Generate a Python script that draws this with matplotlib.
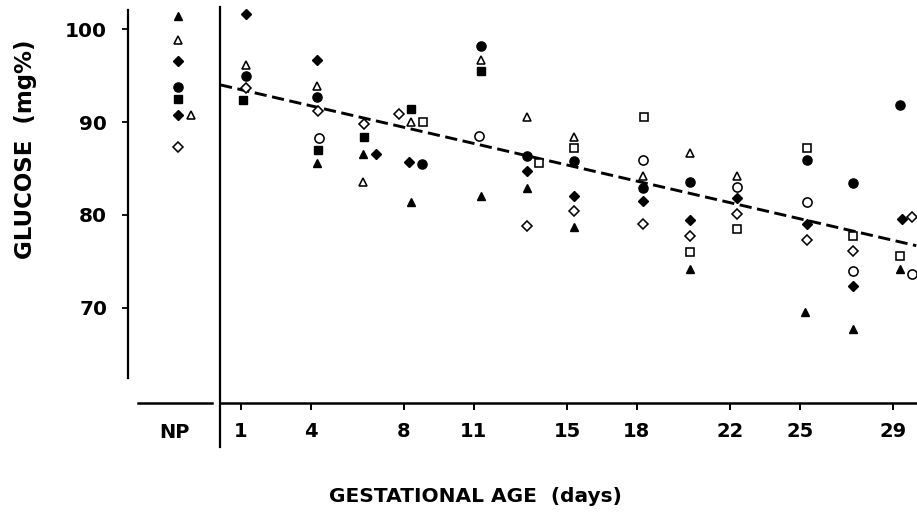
import matplotlib
matplotlib.use("Agg")
import matplotlib.pyplot as plt

plt.rcParams['font.family'] = ['DejaVu Sans']
plt.rcParams['lines.scale_dashes'] = False

# ── data: gestational age (days) vs glucose (mg%), one pair per symbol ──
tri_f_day = [4.25, 6.25, 8.28, 11.3, 13.3, 15.3, 20.3, 25.2, 27.3, 29.3]
tri_f_glu = [85.6, 86.6, 81.4, 82.0, 82.9, 78.7, 74.2, 69.6, 67.7, 74.2]

tri_o_day = [1.2, 4.25, 6.25, 8.28, 11.3, 13.3, 15.3, 18.25, 20.3, 22.3]
tri_o_glu = [96.1, 93.9, 83.5, 90.0, 96.7, 90.5, 88.4, 84.2, 86.7, 84.2]

circ_f_day = [1.2, 4.25, 8.77, 11.3, 13.3, 15.3, 18.25, 20.3, 25.3, 27.3, 29.3]
circ_f_glu = [94.9, 92.7, 85.5, 98.2, 86.3, 85.8, 82.9, 83.5, 85.9, 83.4, 91.8]

circ_o_day = [4.35, 11.23, 18.25, 22.3, 25.3, 27.3, 29.8]
circ_o_glu = [88.3, 88.5, 85.9, 83.0, 81.4, 74.0, 73.7]

dia_f_day = [1.2, 4.25, 6.8, 8.22, 13.3, 15.3, 18.25, 20.3, 22.3, 25.3, 27.3, 29.4]
dia_f_glu = [101.6, 96.7, 86.6, 85.7, 84.7, 82.0, 81.5, 79.5, 81.8, 79.0, 72.4, 79.6]

dia_o_day = [1.2, 4.3, 6.3, 7.77, 13.3, 15.3, 18.25, 20.3, 22.3, 25.3, 27.3, 29.8]
dia_o_glu = [93.7, 91.2, 89.8, 90.9, 78.8, 80.4, 79.0, 77.7, 80.1, 77.3, 76.1, 79.8]

sq_f_day = [1.1, 4.3, 6.3, 8.28, 11.3]
sq_f_glu = [92.4, 87.0, 88.4, 91.4, 95.5]

sq_o_day = [8.83, 13.8, 15.3, 18.3, 20.3, 22.3, 25.3, 27.3, 29.3]
sq_o_glu = [90.0, 85.6, 87.2, 90.5, 76.0, 78.5, 87.2, 77.7, 75.6]

# non-pregnant (NP) values, with small horizontal shift (days) where symbols overlap
np_tri_f = [101.4]
np_tri_o = [98.8, 90.8]
np_tri_o_shift = [0.0, 0.56]
np_circ_f = [93.8]
np_dia_f = [96.6, 90.8]
np_dia_o = [87.3]
np_sq_f = [92.5]

# dashed regression line
fit_day = [0.1, 30.0]
fit_glu = [94.0, 76.7]

day_ticks = [1, 4, 8, 11, 15, 18, 22, 25, 29]
glu_ticks = [70, 80, 90, 100]

# ── layout (pixels → figure fraction) ──────────────
W, H = 917, 515
Y_LIM = (59.78, 102.37)
X_LIM = (0.098, 30.03)

fig = plt.figure(figsize=(W / 100, H / 100), dpi=100)
ax = fig.add_axes([220 / W, 112 / H, 697 / W, 396 / H])
ax_np = fig.add_axes([128 / W, 112 / H, 92 / W, 396 / H])

filled = dict(color="black", linestyle="none", zorder=3)
hollow = dict(color="black", markerfacecolor="white", markeredgewidth=1.15,
              linestyle="none", zorder=3)

TRI, CIRC, DIA_F, DIA_O, SQ = 6.4, 6.6, 5.1, 4.9, 5.4

styles = [
    (tri_f_day, tri_f_glu, dict(marker="^", markersize=TRI, **filled)),
    (tri_o_day, tri_o_glu, dict(marker="^", markersize=TRI, **hollow)),
    (circ_f_day, circ_f_glu, dict(marker="o", markersize=CIRC, **filled)),
    (circ_o_day, circ_o_glu, dict(marker="o", markersize=CIRC, **hollow)),
    (dia_f_day, dia_f_glu, dict(marker="D", markersize=DIA_F, **filled)),
    (dia_o_day, dia_o_glu, dict(marker="D", markersize=DIA_O, **hollow)),
    (sq_f_day, sq_f_glu, dict(marker="s", markersize=SQ, **filled)),
    (sq_o_day, sq_o_glu, dict(marker="s", markersize=SQ, **hollow)),
]
for d, g, kw in styles:
    ax.plot(d, g, **kw)

ax.plot(fit_day, fit_glu, color="black", linewidth=2.1, dashes=[8.8, 4.0], zorder=2)

ax.set_xlim(*X_LIM)
ax.set_ylim(*Y_LIM)
for s in ["top", "right", "left"]:
    ax.spines[s].set_visible(False)
ax.spines["bottom"].set_linewidth(1.8)
ax.set_yticks([])
ax.set_xticks(day_ticks)
ax.set_xticklabels([str(t) for t in day_ticks], fontsize=14, fontweight="bold")
ax.tick_params(axis="x", direction="out", length=5, width=1.4, pad=9)
# left frame line of the pregnant panel runs past the x axis
ax.plot([0, 0], [1.0, -0.112], transform=ax.transAxes, color="black",
        linewidth=1.6, clip_on=False)

# ── NP panel ───────────────────────────────────────
ax_np.plot([0.0] * len(np_tri_f), np_tri_f, marker="^", markersize=TRI, **filled)
ax_np.plot(np_tri_o_shift, np_tri_o, marker="^", markersize=TRI, **hollow)
ax_np.plot([0.0] * len(np_circ_f), np_circ_f, marker="o", markersize=CIRC, **filled)
ax_np.plot([0.0] * len(np_dia_f), np_dia_f, marker="D", markersize=DIA_F, **filled)
ax_np.plot([0.0] * len(np_dia_o), np_dia_o, marker="D", markersize=DIA_O, **hollow)
ax_np.plot([0.0] * len(np_sq_f), np_sq_f, marker="s", markersize=SQ, **filled)

ax_np.set_xlim(-2.16, 1.79)
ax_np.set_ylim(*Y_LIM)
ax_np.patch.set_visible(False)
for s in ["top", "right"]:
    ax_np.spines[s].set_visible(False)
ax_np.spines["left"].set_bounds(62.5, 102.0)
ax_np.spines["left"].set_linewidth(1.6)
ax_np.spines["bottom"].set_bounds(-1.73, 1.45)
ax_np.spines["bottom"].set_linewidth(1.8)
ax_np.set_yticks(glu_ticks)
ax_np.set_yticklabels([str(t) for t in glu_ticks], fontsize=14.5, fontweight="bold")
ax_np.tick_params(axis="y", direction="out", length=4, width=1.3, pad=11)
ax_np.set_xticks([-0.15])
ax_np.set_xticklabels(["NP"], fontsize=14, fontweight="bold")
ax_np.tick_params(axis="x", length=0, pad=14.5)

fig.text(26 / W, 1 - 149 / H, "GLUCOSE  (mg%)", rotation=90, fontsize=16.5,
         fontweight="bold", ha="center", va="center")
fig.text(475 / W, 1 - 497 / H, "GESTATIONAL AGE  (days)", fontsize=14.5,
         fontweight="bold", ha="center", va="center")

fig.savefig("out.png", dpi=100)
